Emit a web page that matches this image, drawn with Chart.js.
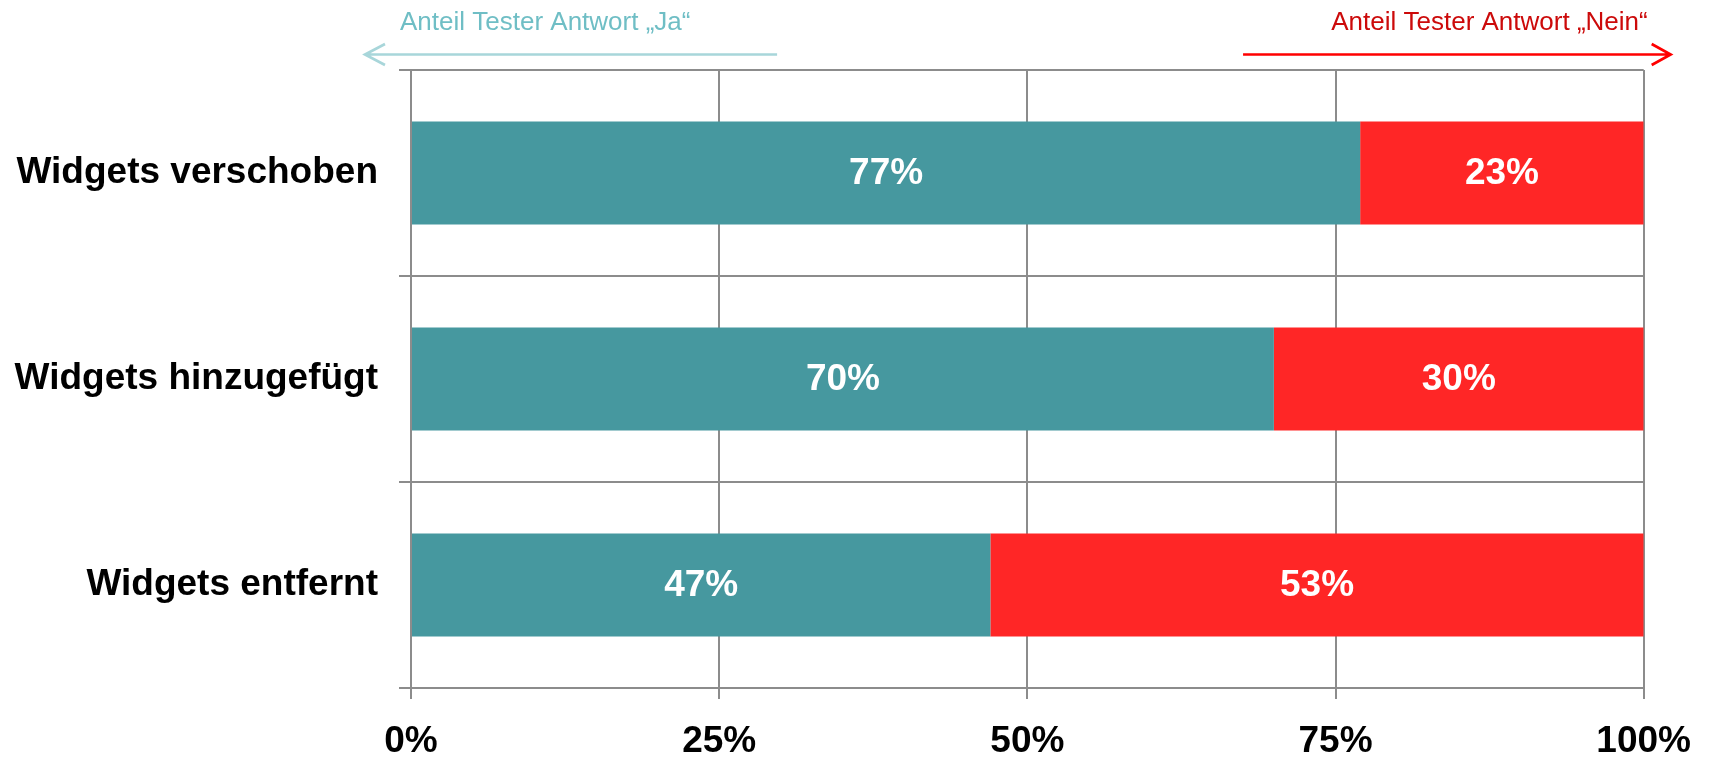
<!DOCTYPE html>
<html>
<head>
<meta charset="utf-8">
<script src="https://cdn.jsdelivr.net/npm/chart.js@4.4.1/dist/chart.umd.min.js"></script>
<style>
  html, body { margin: 0; padding: 0; background: #ffffff; }
  #wrap { width: 1712px; height: 760px; position: relative; }
</style>
</head>
<body>
<div id="wrap"><canvas id="c" width="1712" height="760"></canvas></div>
<script>
const categories = ["Widgets verschoben", "Widgets hinzugefügt", "Widgets entfernt"];
const jaValues = [77, 70, 47];
const neinValues = [23, 30, 53];
const xTicks = [0, 25, 50, 75, 100];
const jaLabel = "Anteil Tester Antwort „Ja“";
const neinLabel = "Anteil Tester Antwort „Nein“";

const FONT = "'Liberation Sans', Arial, Helvetica, sans-serif";
const GRID = "#8c8c8c";

const barLabels = {
  id: 'barLabels',
  afterDatasetsDraw(chart) {
    const ctx = chart.ctx;
    ctx.save();
    ctx.fillStyle = '#ffffff';
    ctx.font = 'bold 37px ' + FONT;
    ctx.textAlign = 'center';
    ctx.textBaseline = 'middle';
    chart.data.datasets.forEach((ds, di) => {
      const meta = chart.getDatasetMeta(di);
      meta.data.forEach((bar, i) => {
        const cx = (bar.x + bar.base) / 2;
        ctx.fillText(ds.data[i] + '%', cx, bar.y + 1);
      });
    });
    ctx.restore();
  }
};

const arrows = {
  id: 'arrows',
  afterDraw(chart) {
    const ctx = chart.ctx;
    const a = chart.chartArea;
    const xs = chart.scales.x;
    ctx.save();
    ctx.font = '26px ' + FONT;
    ctx.textBaseline = 'alphabetic';
    // Ja
    ctx.fillStyle = '#6fbec5';
    ctx.textAlign = 'left';
    ctx.fillText(jaLabel, a.left - 11, 29.5);
    ctx.strokeStyle = '#a8d6da';
    ctx.lineWidth = 2.7;
    const yA = 54.5;
    const jaTip = a.left - 46, jaTail = xs.getPixelForValue(29.7);
    ctx.beginPath();
    ctx.moveTo(jaTail, yA); ctx.lineTo(jaTip, yA);
    ctx.moveTo(jaTip + 20, yA - 10.5); ctx.lineTo(jaTip, yA); ctx.lineTo(jaTip + 20, yA + 10.5);
    ctx.stroke();
    // Nein
    ctx.fillStyle = '#cc0a0a';
    ctx.textAlign = 'right';
    ctx.fillText(neinLabel, a.right + 4, 29.5);
    ctx.strokeStyle = '#ff0000';
    const nTail = xs.getPixelForValue(67.5), nTip = a.right + 27;
    ctx.beginPath();
    ctx.moveTo(nTail, yA); ctx.lineTo(nTip, yA);
    ctx.moveTo(nTip - 19, yA - 10.5); ctx.lineTo(nTip, yA); ctx.lineTo(nTip - 19, yA + 10.5);
    ctx.stroke();
    ctx.restore();
  }
};

new Chart(document.getElementById('c'), {
  type: 'bar',
  data: {
    labels: categories,
    datasets: [
      { label: 'Ja', data: jaValues, backgroundColor: '#46989f', borderWidth: 0, barPercentage: 0.5, categoryPercentage: 1.0 },
      { label: 'Nein', data: neinValues, backgroundColor: '#ff2626', borderWidth: 0, barPercentage: 0.5, categoryPercentage: 1.0 }
    ]
  },
  options: {
    indexAxis: 'y',
    responsive: false,
    animation: false,
    devicePixelRatio: 1,
    layout: { padding: { top: 70, right: 66, left: 0, bottom: 0 } },
    plugins: { legend: { display: false }, tooltip: { enabled: false } },
    scales: {
      x: {
        type: 'linear',
        stacked: true,
        min: 0, max: 100,
        afterBuildTicks(scale) { scale.ticks = xTicks.map(v => ({ value: v })); },
        afterFit(scale) { scale.height = 72; },
        grid: { color: GRID, lineWidth: 2, tickLength: 11, drawTicks: true },
        border: { display: true, color: GRID, width: 2 },
        ticks: {
          color: '#000000',
          font: { family: FONT, size: 37, weight: 'bold' },
          padding: 21,
          maxRotation: 0,
          callback: v => v + '%'
        }
      },
      y: {
        type: 'category',
        stacked: true,
        offset: true,
        afterFit(scale) { scale.width = 411; },
        grid: { offset: true, color: GRID, lineWidth: 2, tickLength: 12, drawTicks: true },
        border: { display: true, color: GRID, width: 2 },
        ticks: {
          color: '#000000',
          font: { family: FONT, size: 37, weight: 'bold' },
          padding: 21
        }
      }
    }
  },
  plugins: [barLabels, arrows]
});
</script>
</body>
</html>
